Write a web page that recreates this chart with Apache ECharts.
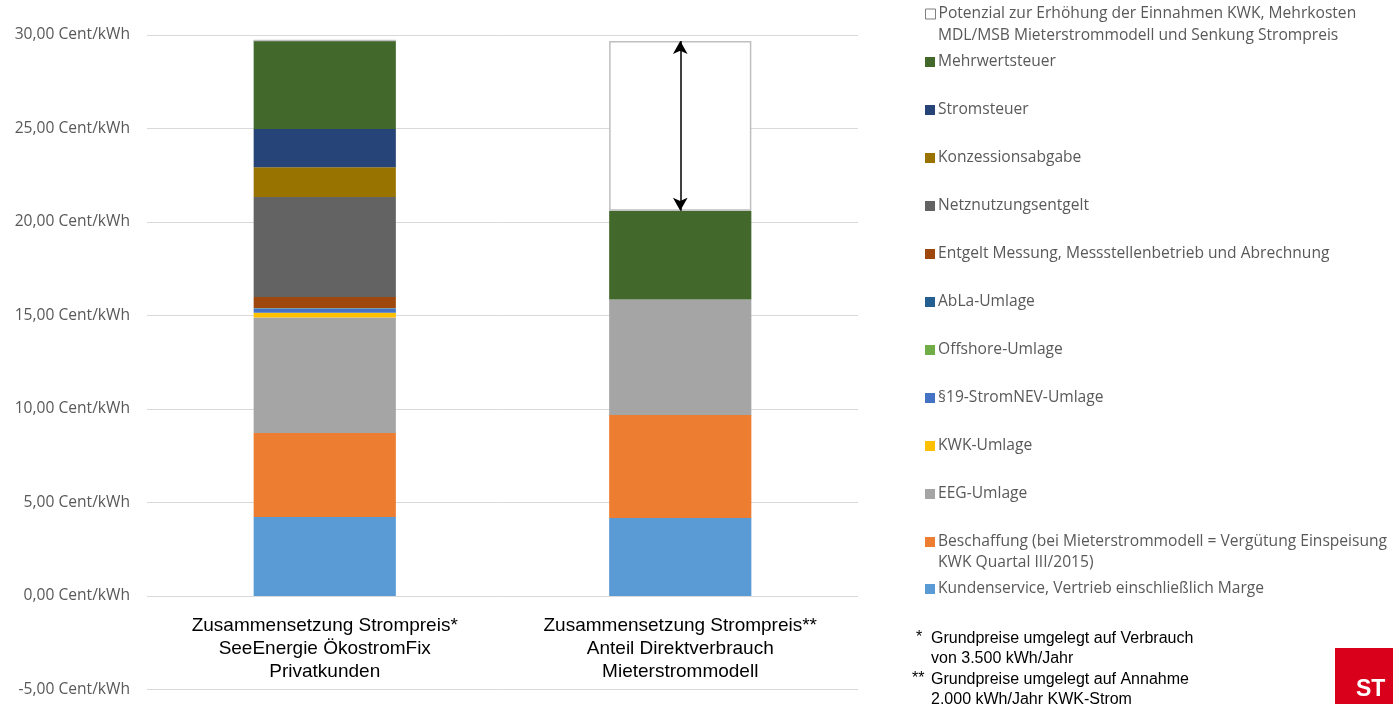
<!DOCTYPE html>
<html>
<head>
<meta charset="utf-8">
<style>
  html, body { margin: 0; padding: 0; background: #fff; }
  #chart { width: 1393px; height: 704px; }
</style>
<script src="https://cdn.jsdelivr.net/npm/echarts@6/dist/echarts.min.js"></script>
</head>
<body>
<div id="chart"></div>
<script>
// Price components in Cent/kWh, bottom to top of each stacked column
const categories = [
  'Zusammensetzung Strompreis*\nSeeEnergie ÖkostromFix\nPrivatkunden',
  'Zusammensetzung Strompreis**\nAnteil Direktverbrauch\nMieterstrommodell'
];
const kundenservice = [4.22, 4.17];
const beschaffung   = [4.50, 5.51];
const eegUmlage     = [6.17, 6.17];
const kwkUmlage     = [0.254, 0];
const stromnevUmlage = [0.237, 0];
const offshoreUmlage = [0.01, 0];
const ablaUmlage    = [0.006, 0];
const messung       = [0.59, 0];
const netznutzung   = [5.35, 0];
const konzession    = [1.59, 0];
const stromsteuer   = [2.05, 0];
const mehrwertsteuer = [4.73, 4.75];
const potenzial     = [0, 9.08];

const yTicks = { min: -5, max: 30, interval: 5 };

const names = {
  kunden: 'Kundenservice, Vertrieb einschließlich Marge',
  besch: 'Beschaffung (bei Mieterstrommodell = Vergütung Einspeisung KWK Quartal III/2015)',
  eeg: 'EEG-Umlage',
  kwk: 'KWK-Umlage',
  s19: '§19-StromNEV-Umlage',
  off: 'Offshore-Umlage',
  abla: 'AbLa-Umlage',
  mess: 'Entgelt Messung, Messstellenbetrieb und Abrechnung',
  netz: 'Netznutzungsentgelt',
  konz: 'Konzessionsabgabe',
  stst: 'Stromsteuer',
  mwst: 'Mehrwertsteuer',
  pot: 'Potenzial zur Erhöhung der Einnahmen KWK, Mehrkosten MDL/MSB Mieterstrommodell und Senkung Strompreis'
};

const textGrey = '#595959';
const uiFont = 'Open Sans';
const uiSize = 15.6;

function bar(name, data, color, extra) {
  return Object.assign({
    name: name,
    type: 'bar',
    stack: 'preis',
    barWidth: '40%',
    data: data,
    itemStyle: { color: color },
    emphasis: { disabled: true }
  }, extra || {});
}

// the potential segment sits on top of the direct-consumption column
const baseRight = kundenservice[1] + beschaffung[1] + eegUmlage[1] + mehrwertsteuer[1];

const series = [
  bar(names.kunden, kundenservice, '#5B9BD5'),
  bar(names.besch, beschaffung, '#ED7D31'),
  bar(names.eeg, eegUmlage, '#A5A5A5'),
  bar(names.kwk, kwkUmlage, '#FFC000'),
  bar(names.s19, stromnevUmlage, '#4472C4'),
  bar(names.off, offshoreUmlage, '#70AD47'),
  bar(names.abla, ablaUmlage, '#255E91'),
  bar(names.mess, messung, '#9E480E'),
  bar(names.netz, netznutzung, '#636363'),
  bar(names.konz, konzession, '#997300'),
  bar(names.stst, stromsteuer, '#264478'),
  bar(names.mwst, mehrwertsteuer, '#43682B'),
  bar(names.pot, potenzial, '#FFFFFF', {
    itemStyle: { color: '#FFFFFF', borderColor: '#BFBFBF', borderWidth: 1.5 },
    markLine: {
      silent: true,
      symbol: ['arrow', 'arrow'],
      symbolSize: [11, 13],
      label: { show: false },
      lineStyle: { color: '#000', width: 1.5, type: 'solid' },
      data: [[
        { coord: [1, baseRight] },
        { coord: [1, baseRight + potenzial[1]] }
      ]]
    }
  })
];

function firstLine(name) {
  if (name === names.pot) return 'Potenzial zur Erhöhung der Einnahmen KWK, Mehrkosten';
  if (name === names.besch) return 'Beschaffung (bei Mieterstrommodell = Vergütung Einspeisung';
  return name;
}

const legendBase = {
  orient: 'vertical',
  left: 925,
  padding: 0,
  itemWidth: 10,
  itemHeight: 10,
  itemGap: 26,
  icon: 'rect',
  selectedMode: false,
  formatter: firstLine,
  textStyle: { color: textGrey, fontFamily: uiFont, fontSize: uiSize, lineHeight: 22, padding: [0, 0, 0, -2] }
};

const chart = echarts.init(document.getElementById('chart'));
chart.setOption({
  animation: false,
  backgroundColor: '#fff',
  grid: { left: 147, right: 535, top: 35, bottom: 14.5, outerBoundsMode: 'none', containLabel: false },
  xAxis: {
    type: 'category',
    data: categories,
    axisLine: { show: false, onZero: false },
    axisTick: { show: false },
    axisLabel: {
      interval: 0,
      hideOverlap: false,
      margin: -75,
      color: '#000',
      fontFamily: 'Liberation Sans, Arial',
      fontSize: 19,
      lineHeight: 23,
      verticalAlign: 'top'
    }
  },
  yAxis: {
    type: 'value',
    min: yTicks.min,
    max: yTicks.max,
    interval: yTicks.interval,
    axisLine: { show: false },
    axisTick: { show: false },
    splitLine: { lineStyle: { color: '#D9D9D9', width: 1 } },
    axisLabel: {
      margin: 17,
      color: textGrey,
      fontFamily: uiFont,
      fontSize: uiSize,
      formatter: v => v.toFixed(2).replace('.', ',') + ' Cent/kWh'
    }
  },
  legend: [
    Object.assign({}, legendBase, {
      top: 3,
      data: [{ name: names.pot, itemStyle: { color: '#FFFFFF', borderColor: '#7F7F7F', borderWidth: 1 } }]
    }),
    Object.assign({}, legendBase, {
      top: 51,
      data: [names.mwst, names.stst, names.konz, names.netz, names.mess,
             names.abla, names.off, names.s19, names.kwk, names.eeg]
    }),
    Object.assign({}, legendBase, {
      top: 531,
      itemGap: 25,
      data: [names.besch, names.kunden]
    })
  ],
  graphic: [
    // continuation lines of the two-line legend entries
    { type: 'text', left: 938, top: 28, style: { text: 'MDL/MSB Mieterstrommodell und Senkung Strompreis', fill: textGrey, font: uiSize + 'px "Open Sans"' } },
    { type: 'text', left: 938, top: 555, style: { text: 'KWK Quartal III/2015)', fill: textGrey, font: uiSize + 'px "Open Sans"' } },
    // footnotes
    { type: 'text', left: 916, top: 630, style: { text: '*', fill: '#000', font: '16px "Liberation Sans", Arial' } },
    { type: 'text', left: 931, top: 628, style: { text: 'Grundpreise umgelegt auf Verbrauch\nvon 3.500 kWh/Jahr', fill: '#000', font: '16px "Liberation Sans", Arial', lineHeight: 20.5 } },
    { type: 'text', left: 912, top: 671, style: { text: '**', fill: '#000', font: '16px "Liberation Sans", Arial' } },
    { type: 'text', left: 931, top: 669, style: { text: 'Grundpreise umgelegt auf Annahme\n2.000 kWh/Jahr KWK-Strom', fill: '#000', font: '16px "Liberation Sans", Arial', lineHeight: 20.5 } },
    // corner logo
    { type: 'rect', left: 1335, top: 648, shape: { width: 58, height: 56 }, style: { fill: '#D9001B' } },
    { type: 'text', left: 1356, top: 678, style: { text: 'ST', fill: '#fff', font: 'bold 23px "Liberation Sans", Arial' } }
  ],
  series: series
});
</script>
</body>
</html>
